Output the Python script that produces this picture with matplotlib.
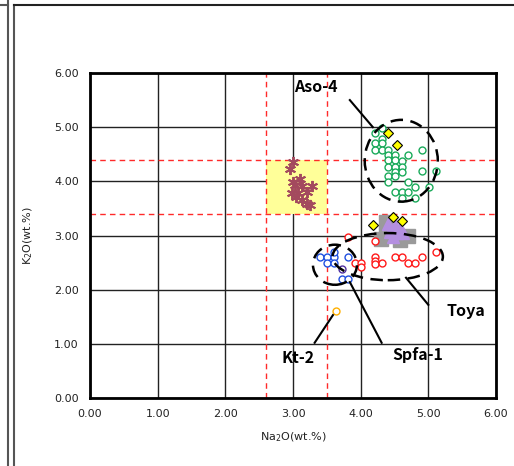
import matplotlib
matplotlib.use("Agg")
import matplotlib.pyplot as plt
from matplotlib.patches import Ellipse, Rectangle
from matplotlib.lines import Line2D

# ---- data (Na2O, K2O wt.%) ----
aso4_na = [4.31, 4.21, 4.31, 4.21, 4.31, 4.21, 4.31, 4.41, 4.41, 4.51, 4.41, 4.51, 4.61, 4.70,
           4.90, 4.61, 4.41, 4.51, 4.51, 4.61, 4.41, 4.51, 4.41, 4.90, 5.11, 4.70, 4.80, 5.01,
           4.51, 4.61, 4.70, 4.61, 4.81]
aso4_k = [4.98, 4.89, 4.79, 4.70, 4.70, 4.58, 4.58, 4.58, 4.49, 4.49, 4.39, 4.39, 4.37, 4.49,
          4.58, 4.27, 4.27, 4.27, 4.18, 4.18, 4.09, 4.09, 3.99, 4.19, 4.19, 3.99, 3.89, 3.89,
          3.80, 3.80, 3.80, 3.70, 3.69]

toya_na = [3.81, 4.21, 4.21, 4.21, 4.21, 4.31, 4.51, 4.61, 4.70, 4.80, 4.91, 5.11, 3.92, 4.01, 4.01]
toya_k = [2.98, 2.90, 2.60, 2.53, 2.47, 2.49, 2.60, 2.60, 2.49, 2.49, 2.60, 2.70, 2.49, 2.49, 2.41]

spfa_na = [3.40, 3.50, 3.60, 3.60, 3.50, 3.60, 3.82, 3.72, 3.82]
spfa_k = [2.60, 2.60, 2.60, 2.70, 2.49, 2.49, 2.60, 2.20, 2.20]
spfa_dark_na = [3.72]
spfa_dark_k = [2.39]

kt2_na = [3.63]
kt2_k = [1.61]

star_na = [3.00, 2.95, 3.00, 3.10, 3.03, 3.13, 3.28, 2.98, 3.08, 3.20, 3.05, 3.13, 3.20, 3.25]
star_k = [4.36, 4.22, 3.99, 4.04, 3.93, 3.91, 3.91, 3.78, 3.78, 3.81, 3.72, 3.66, 3.59, 3.56]

diamond_na = [4.41, 4.53, 4.18, 4.48, 4.61]
diamond_k = [4.90, 4.68, 3.19, 3.34, 3.27]

gray_na = [4.37, 4.37, 4.30, 4.58, 4.70]
gray_k = [3.25, 3.01, 2.94, 2.92, 2.99]

purple_na = [4.41, 4.51, 4.58, 4.43, 4.53, 4.63, 4.48]
purple_k = [3.22, 3.19, 3.13, 3.07, 3.04, 3.04, 2.98]

ref_na = [2.6, 3.5]
ref_k = [3.4, 4.4]

ticks = [0, 1, 2, 3, 4, 5, 6]
tick_labels = ["0.00", "1.00", "2.00", "3.00", "4.00", "5.00", "6.00"]

# ---- figure ----
fig = plt.figure(figsize=(5.14, 4.66), dpi=100)
ax = fig.add_axes([90/514, 1-398/466, 406/514, 325/466])
ax.set_xlim(0, 6)
ax.set_ylim(0, 6)
ax.set_xticks(ticks)
ax.set_yticks(ticks)
ax.set_xticklabels(tick_labels)
ax.set_yticklabels(tick_labels)
ax.tick_params(length=0, labelsize=8, colors='#222222', pad=8)
for s in ax.spines.values():
    s.set_linewidth(2)
    s.set_color('black')
ax.grid(True, color='#222222', linewidth=1)
ax.set_axisbelow(True)

# yellow box and red dashed reference lines
ax.add_patch(Rectangle((ref_na[0], ref_k[0]), ref_na[1]-ref_na[0], ref_k[1]-ref_k[0],
                       facecolor='#ffff99', edgecolor='none', zorder=1.5))
for v in ref_na:
    ax.axvline(v, color='#ff2a2a', linestyle=(0, (4, 3)), linewidth=1.0, zorder=2)
for v in ref_k:
    ax.axhline(v, color='#ff2a2a', linestyle=(0, (4, 3)), linewidth=1.0, zorder=2)

ms = 5
ax.plot(star_na, star_k, linestyle='none', marker=(6, 2, 0), markersize=8,
        markeredgecolor='#a34a5e', markeredgewidth=1.4, zorder=3)
ax.plot(gray_na, gray_k, linestyle='none', marker='s', markersize=10,
        markerfacecolor='#9a9a9a', markeredgecolor='#9a9a9a', zorder=3)
ax.plot(purple_na, purple_k, linestyle='none', marker='^', markersize=8,
        markerfacecolor='#b48fe0', markeredgecolor='#b48fe0', zorder=3.2)
ax.plot(aso4_na, aso4_k, linestyle='none', marker='o', markersize=ms,
        markerfacecolor='white', markeredgecolor='#1aaa5a', markeredgewidth=1, zorder=3)
ax.plot(toya_na, toya_k, linestyle='none', marker='o', markersize=ms,
        markerfacecolor='white', markeredgecolor='#ff1a1a', markeredgewidth=1, zorder=3)
ax.plot(spfa_na, spfa_k, linestyle='none', marker='o', markersize=ms,
        markerfacecolor='white', markeredgecolor='#2050e0', markeredgewidth=1, zorder=3)
ax.plot(spfa_dark_na, spfa_dark_k, linestyle='none', marker='o', markersize=ms,
        markerfacecolor='white', markeredgecolor='#5030a0', markeredgewidth=1, zorder=3)
ax.plot(kt2_na, kt2_k, linestyle='none', marker='o', markersize=ms,
        markerfacecolor='white', markeredgecolor='#ffb000', markeredgewidth=1, zorder=3)
ax.plot(diamond_na, diamond_k, linestyle='none', marker='D', markersize=5,
        markerfacecolor='#ffff00', markeredgecolor='black', markeredgewidth=0.8, zorder=3.5)

# dashed ellipses
for (cx, cy, w, h) in [(4.60, 4.38, 1.08, 1.51), (4.40, 2.61, 1.63, 0.87), (3.62, 2.46, 0.65, 0.74)]:
    ax.add_patch(Ellipse((cx, cy), w, h, fill=False, edgecolor='black', linewidth=1.8,
                         linestyle=(0, (5, 3)), zorder=4))

# annotation lines and labels
tfont = dict(family=['Noto Sans CJK JP', 'DejaVu Sans'], fontsize=11.5, fontweight='bold',
             ha='center', va='center', color='black', zorder=5)
for (x0, y0, x1, y1) in [(3.84, 5.50, 4.18, 5.00), (4.67, 2.22, 5.00, 1.72),
                         (3.84, 2.14, 4.31, 1.02), (3.59, 1.53, 3.32, 1.02)]:
    ax.plot([x0, x1], [y0, y1], color='black', linewidth=1.5, zorder=4)
ax.text(3.34, 5.74, "Aso-4", **tfont)
ax.text(5.56, 1.61, "Toya", **tfont)
ax.text(4.85, 0.79, "Spfa-1", **tfont)
ax.text(3.07, 0.74, "Kt-2", **tfont)

ax.set_xlabel(r"Na$_2$O(wt.%)", fontsize=8, color='#222222', labelpad=8)
ax.set_ylabel(r"K$_2$O(wt.%)", fontsize=8, color='#222222', labelpad=14)

# outer frame lines (screenshot border)
for (x0, y0, x1, y1, c) in [(7.5, 0, 7.5, 466, '#555555'), (13.5, 0, 13.5, 461, '#555555'),
                            (13.5, 461, 514, 461, '#222222'), (0, 461, 7.5, 461, '#555555')]:
    fig.add_artist(Line2D([x0/514, x1/514], [y0/466, y1/466], color=c, linewidth=1.5,
                          transform=fig.transFigure))

fig.savefig("out.png", dpi=100)
